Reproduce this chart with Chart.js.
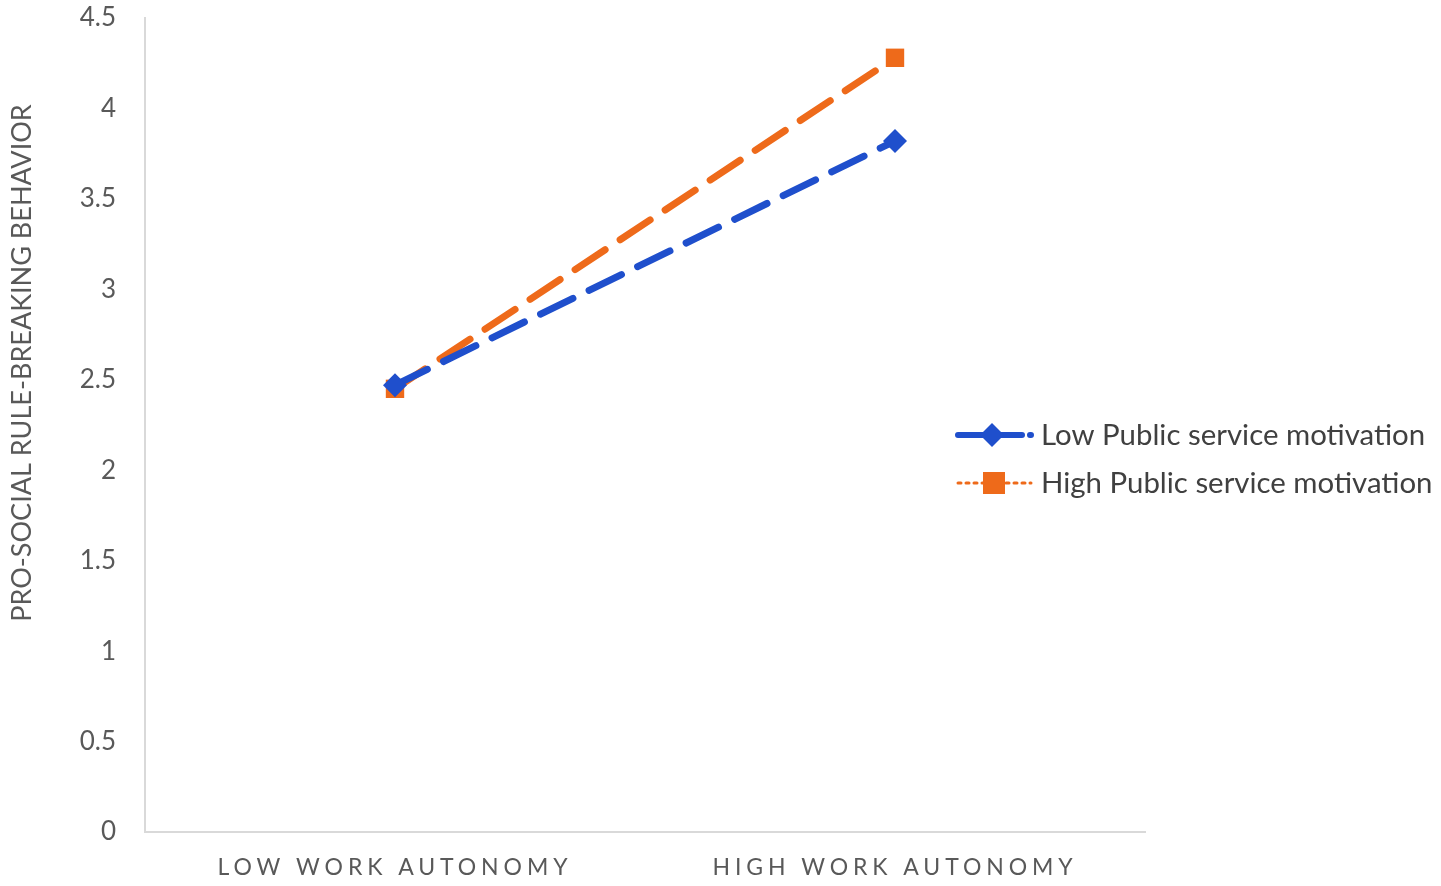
<!DOCTYPE html>
<html>
<head>
<meta charset="utf-8">
<script src="https://cdn.jsdelivr.net/npm/chart.js@4.4.1/dist/chart.umd.min.js"></script>
<style>
html,body{margin:0;padding:0;background:#fff;}
canvas{display:block;}
</style>
</head>
<body>
<canvas id="c" width="1441" height="886"></canvas>
<script>
const categories = ["LOW WORK AUTONOMY", "HIGH WORK AUTONOMY"];
const seriesNames = ["Low Public service motivation", "High Public service motivation"];
const lowPSM = [2.47, 3.82];
const highPSM = [2.45, 4.28];
const yTicks = [0, 0.5, 1, 1.5, 2, 2.5, 3, 3.5, 4, 4.5];
const yTitle = "PRO-SOCIAL RULE-BREAKING BEHAVIOR";

const BLUE = '#1f4fcc';
const ORANGE = '#ee6a1a';
const FONT = 'Lato, "Open Sans", sans-serif';

const customDraw = {
  id: 'customDraw',
  afterDraw(chart) {
    const ctx = chart.ctx;
    const xs = chart.scales.x;
    // x labels with letter spacing
    ctx.save();
    ctx.font = '23px ' + FONT;
    ctx.fillStyle = '#595959';
    ctx.textAlign = 'center';
    ctx.textBaseline = 'middle';
    ctx.letterSpacing = '4.9px';
    xs.getLabels().forEach((lab, i) => {
      ctx.fillText(lab, xs.getPixelForTick(i) + 0, 868);
    });
    ctx.restore();

    // y title
    ctx.save();
    ctx.translate(22, 363);
    ctx.rotate(-Math.PI / 2);
    ctx.font = '27px ' + FONT;
    ctx.fillStyle = '#595959';
    ctx.textAlign = 'center';
    ctx.textBaseline = 'middle';
    ctx.fillText(yTitle, 0, 0);
    ctx.restore();

    // legend
    const items = [
      {name: seriesNames[0], color: BLUE, y: 435, dash: [28, 8], marker: 'diamond'},
      {name: seriesNames[1], color: ORANGE, y: 483, dash: [3, 5], marker: 'square'}
    ];
    items.forEach(it => {
      ctx.save();
      ctx.strokeStyle = it.color;
      ctx.lineWidth = it.marker === 'diamond' ? 6 : 3;
      ctx.lineCap = 'round';
      ctx.setLineDash(it.dash);
      ctx.beginPath();
      ctx.moveTo(958, it.y);
      ctx.lineTo(1031, it.y);
      ctx.stroke();
      ctx.setLineDash([]);
      ctx.fillStyle = it.color;
      ctx.beginPath();
      if (it.marker === 'diamond') {
        const cx = 992, r = 12;
        ctx.moveTo(cx, it.y - r); ctx.lineTo(cx + r, it.y); ctx.lineTo(cx, it.y + r); ctx.lineTo(cx - r, it.y); ctx.closePath();
      } else {
        ctx.rect(983, it.y - 11, 22, 22);
      }
      ctx.fill();
      ctx.font = '29.4px ' + FONT;
      ctx.fillStyle = '#404040';
      ctx.textAlign = 'left';
      ctx.textBaseline = 'middle';
      ctx.fillText(it.name, 1041, it.y + 1);
      ctx.restore();
    });
  }
};

new Chart(document.getElementById('c'), {
  type: 'line',
  data: {
    labels: categories,
    datasets: [
      {
        label: seriesNames[0], data: lowPSM,
        borderColor: BLUE, backgroundColor: BLUE, borderWidth: 7,
        borderDash: [36, 18], borderCapStyle: 'round',
        pointStyle: 'rectRot', pointRadius: 12, pointBorderWidth: 0, pointBackgroundColor: BLUE
      },
      {
        label: seriesNames[1], data: highPSM,
        borderColor: ORANGE, backgroundColor: ORANGE, borderWidth: 7,
        borderDash: [36, 18], borderCapStyle: 'round',
        pointStyle: 'rect', pointRadius: 13, pointBorderWidth: 0, pointBackgroundColor: ORANGE
      }
    ]
  },
  options: {
    responsive: false,
    animation: false,
    layout: {padding: {top: 18, right: 296, bottom: 0, left: 0}},
    plugins: {legend: {display: false}, tooltip: {enabled: false}},
    scales: {
      x: {
        offset: true,
        grid: {display: false},
        border: {display: true, color: '#d9d9d9', width: 2},
        ticks: {color: 'rgba(0,0,0,0)', font: {size: 23, family: FONT}},
        afterFit(s) { s.height = 54; s.paddingLeft = 0; s.paddingRight = 0; }
      },
      y: {
        min: 0, max: 4.5,
        afterBuildTicks(s) { s.ticks = yTicks.map(v => ({value: v})); },
        grid: {display: false},
        border: {display: true, color: '#d9d9d9', width: 2},
        ticks: {color: '#595959', font: {size: 26, family: FONT}, padding: 21, callback: v => String(v)},
        afterFit(s) { s.width = 145; s.paddingTop = 0; s.paddingBottom = 0; }
      }
    }
  },
  plugins: [customDraw]
});
</script>
</body>
</html>
